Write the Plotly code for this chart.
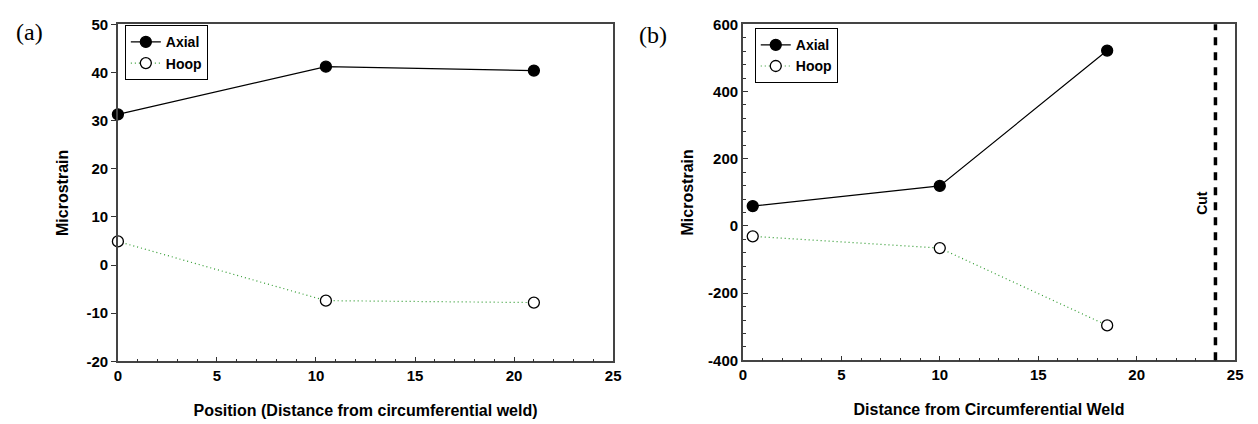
import plotly.graph_objects as go

# Panel (a)
a_x = [0, 10.5, 21]
a_axial = [31.3, 41.2, 40.4]
a_hoop = [4.9, -7.4, -7.8]
a_xticks = [0, 5, 10, 15, 20, 25]
a_yticks = [-20, -10, 0, 10, 20, 30, 40, 50]

# Panel (b)
b_x = [0.5, 10, 18.5]
b_axial = [59, 119, 522]
b_hoop = [-31, -66, -296]
b_xticks = [0, 5, 10, 15, 20, 25]
b_yticks = [-400, -200, 0, 200, 400, 600]
cut_x = 24

FONT = "Arial"
GREEN = "#2e9a2e"

fig = go.Figure()

def add_series(xs, ys, xa, ya, legend, name, filled, dash, color):
    fig.add_trace(go.Scatter(
        x=xs, y=ys, xaxis=xa, yaxis=ya, name="<b>" + name + "</b>", legend=legend,
        mode="lines+markers", cliponaxis=False,
        line=dict(color=color, width=1.2, dash=dash),
        marker=dict(size=11, symbol="circle",
                    color="black" if filled else "white",
                    line=dict(color="black", width=1.3)),
    ))

add_series(a_x, a_axial, "x", "y", "legend", "Axial", True, "solid", "black")
add_series(a_x, a_hoop, "x", "y", "legend", "Hoop", False, "1px,3px", GREEN)
add_series(b_x, b_axial, "x2", "y2", "legend2", "Axial", True, "solid", "black")
add_series(b_x, b_hoop, "x2", "y2", "legend2", "Hoop", False, "1px,3px", GREEN)

fig.add_shape(type="line", xref="x2", yref="y2 domain", x0=cut_x, x1=cut_x, y0=0, y1=1,
              line=dict(color="black", width=3.5, dash="8px,7px"))
fig.add_annotation(xref="x2", yref="y2 domain", x=cut_x, y=0.47, text="<b>Cut</b>",
                   textangle=-90, showarrow=False, xanchor="right", xshift=-3,
                   font=dict(family=FONT, size=14, color="black", weight=700))

W, H = 1258, 424

def bold(vals):
    return ["<b>" + str(v) + "</b>" for v in vals]

tickfont = dict(family=FONT, size=15, color="black", weight=700)
titlefont = dict(family=FONT, size=16, color="black", weight=700)

common_axis = dict(showgrid=False, zeroline=False, showline=True, mirror=True,
                   linecolor="#444", linewidth=1.5, tickfont=tickfont,
                   ticklen=5, tickwidth=1, tickcolor="#333")

legfont = dict(family=FONT, size=14, color="black", weight=700)

fig.update_layout(
    width=W, height=H,
    margin=dict(l=0, r=0, t=0, b=0),
    plot_bgcolor="white", paper_bgcolor="white",
    font=dict(family=FONT, weight=700),
    xaxis=dict(domain=[115 / W, 615 / W], range=[0, 25], anchor="y",
               tickvals=a_xticks, ticktext=bold(a_xticks), ticks="inside",
               minor=dict(dtick=1, ticks="inside", ticklen=3, tickcolor="#333"),
               title=dict(text="<b>Position (Distance from circumferential weld)</b>", font=titlefont, standoff=22),
               **common_axis),
    yaxis=dict(domain=[1 - 367 / H, 1 - 16 / H], range=[-20, 50], anchor="x",
               tickvals=a_yticks, ticktext=bold(a_yticks), ticks="outside",
               title=dict(text="<b>Microstrain</b>", font=titlefont, standoff=14),
               **common_axis),
    xaxis2=dict(domain=[746 / W, 1243 / W], range=[0, 25], anchor="y2",
                tickvals=b_xticks, ticktext=bold(b_xticks), ticks="inside",
                minor=dict(dtick=1, ticks="inside", ticklen=3, tickcolor="#333"),
                title=dict(text="<b>Distance from Circumferential Weld</b>", font=titlefont, standoff=22),
                **common_axis),
    yaxis2=dict(domain=[1 - 366 / H, 1 - 16 / H], range=[-400, 600], anchor="x2",
                tickvals=b_yticks, ticktext=bold(b_yticks), ticks="inside",
                minor=dict(dtick=40, ticks="inside", ticklen=3, tickcolor="#333"),
                title=dict(text="<b>Microstrain</b>", font=titlefont, standoff=10),
                **common_axis),
    legend=dict(x=122 / W, y=1 - 17 / H, xanchor="left", yanchor="top",
                bgcolor="white", bordercolor="black", borderwidth=1,
                font=legfont, itemwidth=30, tracegroupgap=0),
    legend2=dict(x=758 / W, y=1 - 20 / H, xanchor="left", yanchor="top",
                 bgcolor="white", bordercolor="black", borderwidth=1,
                 font=legfont, itemwidth=30, tracegroupgap=0),
)

fig.add_annotation(xref="paper", yref="paper", x=10 / W, y=1 - 24 / H, text="(a)", showarrow=False,
                   xanchor="left", yanchor="middle",
                   font=dict(family="Liberation Serif", size=24, color="black", weight=400))
fig.add_annotation(xref="paper", yref="paper", x=639 / W, y=1 - 27 / H, text="(b)", showarrow=False,
                   xanchor="left", yanchor="middle",
                   font=dict(family="Liberation Serif", size=24, color="black", weight=400))

fig.write_html("out.html")
